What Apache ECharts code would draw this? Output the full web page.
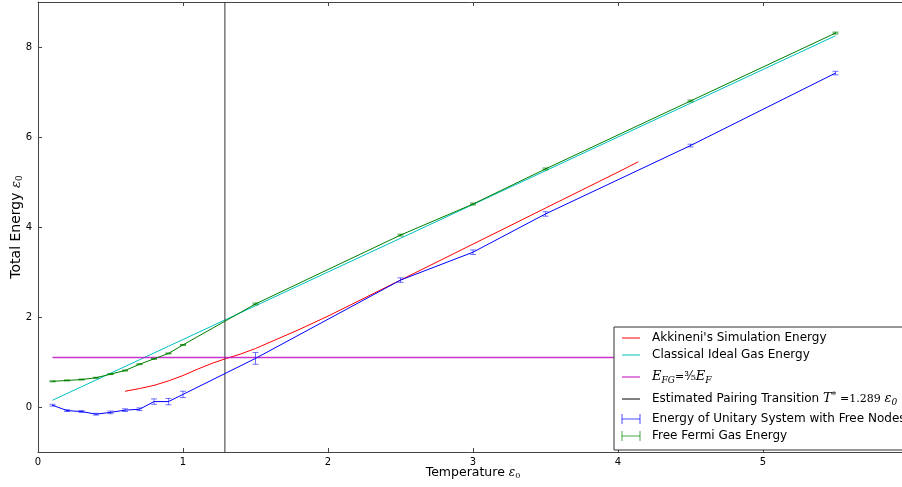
<!DOCTYPE html>
<html>
<head>
<meta charset="utf-8">
<script src="https://cdn.jsdelivr.net/npm/echarts@6/dist/echarts.min.js"></script>
<style>
  html, body { margin: 0; padding: 0; background: #fff; }
  #chart { width: 902px; height: 487px; }
</style>
</head>
<body>
<div id="chart"></div>
<script>
// ── data ────────────────────────────────────────────────────────────────────
const tempX      = [0.1, 0.2, 0.3, 0.4, 0.5, 0.6, 0.7, 0.8, 0.9, 1.0, 1.5, 2.5, 3.0, 3.5, 4.5, 5.5];
const unitaryE   = [0.04, -0.08, -0.10, -0.16, -0.12, -0.07, -0.05, 0.12, 0.12, 0.28, 1.08, 2.82, 3.44, 4.29, 5.81, 7.42];
const unitaryErr = [0.02, 0.02, 0.02, 0.02, 0.03, 0.03, 0.03, 0.06, 0.07, 0.07, 0.13, 0.05, 0.05, 0.05, 0.03, 0.04];
const fermiE     = [0.57, 0.59, 0.61, 0.65, 0.73, 0.81, 0.95, 1.07, 1.19, 1.38, 2.29, 3.82, 4.51, 5.29, 6.80, 8.31];
const fermiErr   = [0.01, 0.01, 0.01, 0.01, 0.01, 0.01, 0.01, 0.01, 0.01, 0.01, 0.02, 0.02, 0.02, 0.02, 0.02, 0.02];
const classicalE = [0.15, 0.30, 0.45, 0.60, 0.75, 0.90, 1.05, 1.20, 1.35, 1.50, 2.25, 3.75, 4.50, 5.25, 6.75, 8.25];

const akkT = [0.6, 0.7, 0.8, 0.9, 1.0, 1.1, 1.2, 1.3, 1.4, 1.5, 1.6, 1.8, 2.0, 2.5, 3.0, 3.5, 4.0, 4.14];
const akkE = [0.35, 0.41, 0.48, 0.58, 0.70, 0.84, 0.97, 1.08, 1.18, 1.30, 1.44, 1.72, 2.02, 2.82, 3.62, 4.42, 5.22, 5.45];

const fermiLevelX = [0.1, 5.5];
const fermiLevelE = [1.1, 1.1];    // E_FG = 3/5 E_F
const pairingT    = 1.289;

const xTicks = [0, 1, 2, 3, 4, 5, 6];
const yTicks = [0, 2, 4, 6, 8];

const legendItems = [
  { kind: 'line', color: '#ff0000', text: "Akkineni's Simulation Energy" },
  { kind: 'line', color: '#00bfbf', text: 'Classical Ideal Gas Energy' },
  { kind: 'line', color: '#bf00bf', text: '{i|E}{sub|FG}{n|=}{fr|³⁄₅}{i|E}{sub|F}' },
  { kind: 'line', color: '#000000', text: 'Estimated Pairing Transition {i|T}{sup|*} {n|=1.289} {i|ε}{sub|0}' },
  { kind: 'err',  color: '#0000ff', text: 'Energy of Unitary System with Free Nodes' },
  { kind: 'err',  color: '#008000', text: 'Free Fermi Gas Energy' }
];

const FONT = 'DejaVu Sans';
const pairs = (xs, ys) => xs.map((x, i) => [x, ys[i]]);

function errorBarSeries(ys, errs, color, opacity) {
  return {
    type: 'custom',
    data: tempX.map((x, i) => [x, ys[i], errs[i]]),
    z: 5,
    renderItem(params, api) {
      const x = api.value(0), y = api.value(1), e = api.value(2);
      const top = api.coord([x, y + e]);
      const bot = api.coord([x, y - e]);
      const cap = 3;
      const style = { stroke: color, lineWidth: 1, opacity: opacity };
      return {
        type: 'group',
        children: [
          { type: 'line', shape: { x1: top[0], y1: top[1], x2: bot[0], y2: bot[1] }, style },
          { type: 'line', shape: { x1: top[0] - cap, y1: top[1], x2: top[0] + cap, y2: top[1] }, style },
          { type: 'line', shape: { x1: bot[0] - cap, y1: bot[1], x2: bot[0] + cap, y2: bot[1] }, style }
        ]
      };
    }
  };
}

function lineSeries(name, data, color, z) {
  return {
    name, type: 'line', data, showSymbol: false, symbol: 'none', z: z || 3,
    lineStyle: { color, width: 1 }, animation: false
  };
}

// ── legend built with graphic elements (math in labels) ─────────────────────
const richMath = {
  i:   { fontFamily: 'DejaVu Serif', fontStyle: 'italic', fontSize: 13, fill: '#000' },
  n:   { fontFamily: 'DejaVu Serif', fontSize: 11, fill: '#000' },
  sub: { fontFamily: 'DejaVu Serif', fontStyle: 'italic', fontSize: 9, fill: '#000', padding: [7, 0, 0, 0] },
  sup: { fontFamily: 'DejaVu Serif', fontSize: 9, fill: '#000', padding: [0, 0, 7, 0] },
  fr:  { fontFamily: 'DejaVu Serif', fontSize: 12, fill: '#000' }
};
const LEG_X = 614, LEG_Y = 327, LEG_W = 292, LEG_H = 123;
const legendRows = [338, 355, 377, 399, 419, 436];
const legendGraphic = [{
  type: 'rect', shape: { x: LEG_X, y: LEG_Y, width: LEG_W, height: LEG_H },
  style: { fill: '#fff', stroke: '#333', lineWidth: 1 }, z: 100
}];
legendItems.forEach((it, k) => {
  const y = legendRows[k];
  if (it.kind === 'line') {
    legendGraphic.push({ type: 'line', shape: { x1: 622, y1: y, x2: 640, y2: y },
      style: { stroke: it.color, lineWidth: 1 }, z: 101 });
  } else {
    const s = { stroke: it.color, lineWidth: 1, opacity: 0.7 };
    legendGraphic.push(
      { type: 'line', shape: { x1: 622, y1: y, x2: 640, y2: y }, style: s, z: 101 },
      { type: 'line', shape: { x1: 622, y1: y - 5, x2: 622, y2: y + 5 }, style: s, z: 101 },
      { type: 'line', shape: { x1: 640, y1: y - 5, x2: 640, y2: y + 5 }, style: s, z: 101 }
    );
  }
  legendGraphic.push({
    type: 'text', x: 652, y: y, z: 101,
    style: { text: it.text, fontFamily: FONT, fontSize: 12, fill: '#000',
             verticalAlign: 'middle', rich: richMath }
  });
});

// ── chart ───────────────────────────────────────────────────────────────────
const chart = echarts.init(document.getElementById('chart'), null, { renderer: 'canvas' });

const axisLineStyle = { color: '#444', width: 1 };
chart.setOption({
  animation: false,
  backgroundColor: '#fff',
  // plot area runs a few px past the right edge (figure is cropped there)
  grid: { left: 38, right: -6, top: 2, bottom: 35, outerBoundsMode: 'none', containLabel: false },
  xAxis: [{
    type: 'value', min: 0, max: 6,
    name: 'Temperature {e|ε}{s|0}', nameLocation: 'middle', nameGap: 14, nameMoveOverlap: false,
    nameTextStyle: { fontFamily: FONT, fontSize: 12.5, color: '#000',
      rich: { e: { fontFamily: 'DejaVu Serif', fontStyle: 'italic', fontSize: 12 },
              s: { fontFamily: 'DejaVu Serif', fontSize: 8, padding: [6, 0, 0, 0] } } },
    axisLine: { show: true, onZero: false, lineStyle: axisLineStyle },
    axisTick: { show: true, inside: true, length: 4, customValues: xTicks, lineStyle: axisLineStyle },
    axisLabel: { customValues: xTicks, fontFamily: FONT, fontSize: 10, color: '#000', margin: 5 },
    splitLine: { show: false }
  }, {
    type: 'value', position: 'top', min: 0, max: 6,
    axisLine: { show: true, onZero: false, lineStyle: axisLineStyle },
    axisTick: { show: true, inside: true, length: 4, customValues: xTicks, lineStyle: axisLineStyle },
    axisLabel: { show: false }, splitLine: { show: false }
  }],
  yAxis: [{
    type: 'value', min: -1, max: 9,
    name: 'Total Energy {e|ε}{s|0}', nameLocation: 'middle', nameGap: 14, nameRotate: 90,
    nameMoveOverlap: false,
    nameTextStyle: { fontFamily: FONT, fontSize: 14, color: '#000',
      rich: { e: { fontFamily: 'DejaVu Serif', fontStyle: 'italic', fontSize: 13 },
              s: { fontFamily: 'DejaVu Serif', fontSize: 9, padding: [6, 0, 0, 0] } } },
    axisLine: { show: true, onZero: false, lineStyle: axisLineStyle },
    axisTick: { show: true, inside: true, length: 4, customValues: yTicks, lineStyle: axisLineStyle },
    axisLabel: { customValues: yTicks, fontFamily: FONT, fontSize: 10, color: '#000', margin: 6 },
    splitLine: { show: false }
  }, {
    type: 'value', position: 'right', min: -1, max: 9,
    axisLine: { show: true, onZero: false, lineStyle: axisLineStyle },
    axisTick: { show: true, inside: true, length: 4, customValues: yTicks, lineStyle: axisLineStyle },
    axisLabel: { show: false }, splitLine: { show: false }
  }],
  graphic: legendGraphic,
  series: [
    lineSeries('akkineni', pairs(akkT, akkE), '#ff0000'),
    lineSeries('classical', pairs(tempX, classicalE), '#00bfbf'),
    lineSeries('pairing', [[pairingT, -1], [pairingT, 9]], '#333333'),
    {
      name: 'fermiLevel', type: 'line', data: pairs(fermiLevelX, fermiLevelE),
      showSymbol: false, symbol: 'none', z: 4, animation: false,
      lineStyle: { color: 'rgb(191,0,191)', width: 1.5, opacity: 0.8 }
    },
    lineSeries('unitary', pairs(tempX, unitaryE), '#0000ff', 4),
    errorBarSeries(unitaryE, unitaryErr, '#0000ff', 0.55),
    lineSeries('fermiGas', pairs(tempX, fermiE), '#008000', 4),
    errorBarSeries(fermiE, fermiErr, '#008000', 0.8)
  ]
});
</script>
</body>
</html>
